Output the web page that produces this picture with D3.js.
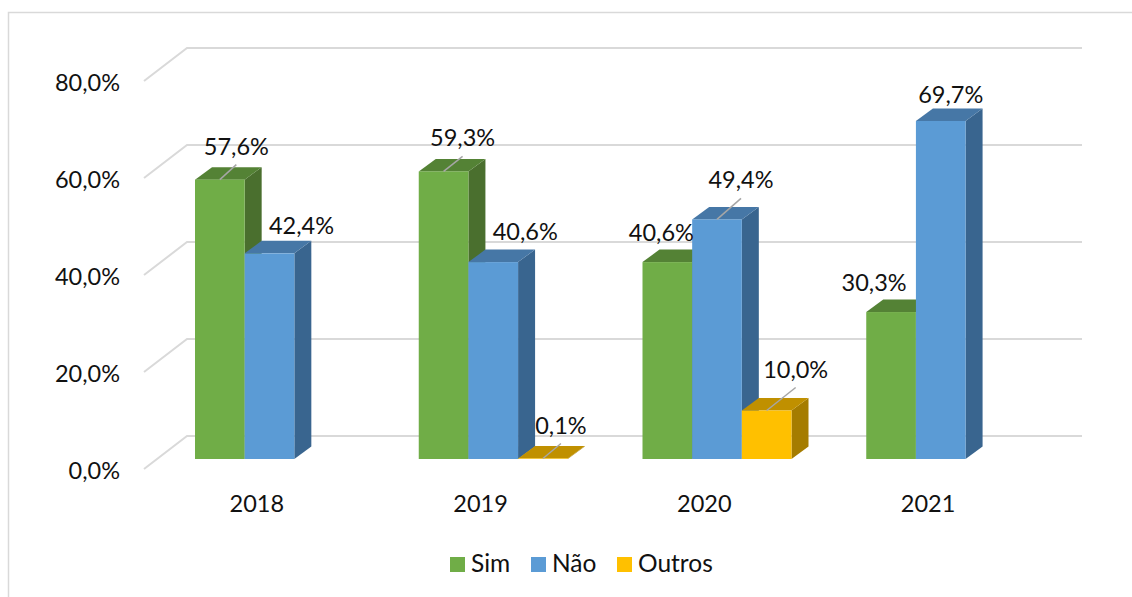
<!DOCTYPE html>
<html>
<head>
<meta charset="utf-8">
<script src="https://cdn.jsdelivr.net/npm/d3@7"></script>
<style>
    html, body { margin: 0; padding: 0; background: #fff; overflow: hidden; }
    text { font-family: Lato, "Open Sans", sans-serif; font-size: 23.5px; fill: #111; }
</style>
</head>
<body>
<div class="chart"></div>
<script>
const years = ["2018", "2019", "2020", "2021"];
const sim = [57.6, 59.3, 40.6, 30.3];
const nao = [42.4, 40.6, 49.4, 69.7];
const outros = [null, 0.1, 10.0, null];
const yTicks = [0, 20, 40, 60, 80];

const seriesNames = ["Sim", "Não", "Outros"];
const seriesValues = [sim, nao, outros];
const colorsFront = ["#70ad47", "#5b9bd5", "#ffc000"];
const colorsTop = ["#548235", "#4677a6", "#c09000"];
const colorsSide = ["#4a6f2e", "#39658f", "#a57c00"];

const width = 1132, height = 597;
const barDepth = { x: 17, y: -12.5 };   // 3D offset of a bar
const wallBack = { x: 43, y: -23 };     // back wall relative to bar plane
const wallFront = { x: 0, y: 10 };      // front edge of the floor

// Hand placed labels, like the manual layout in the original [dx, dy from bar top centre]
const labelOffsets = {
    "0-0": [16.5, -25], "0-1": [32, -19],
    "1-0": [19, -25], "1-1": [32, -22], "1-2": [18, -25],
    "2-0": [-6, -21], "2-1": [24, -31], "2-2": [29, -33],
    "3-0": [-17, -21], "3-1": [10, -18]
};
const withLeader = ["0-0", "1-0", "1-2", "2-1", "2-2"];

const svg = d3.select(".chart")
    .append("svg")
    .attr("width", width)
    .attr("height", height);

// Chart border
svg.append("path")
    .attr("d", "M8.5," + height + "V12.5H" + width)
    .attr("fill", "none")
    .attr("stroke", "#d9d9d9")
    .attr("stroke-width", 1.5);

const scaleX = d3.scaleBand().domain(years).range([145, 1040]);
const scaleY = d3.scaleLinear().domain([0, 80]).range([459, 71]);
const scaleSeries = d3.scaleBand().domain(seriesNames).range([50, 199]);

// Grid on the walls
const grid = svg.append("g");
yTicks.forEach(t => {
    const y = scaleY(t);
    grid.append("path")
        .attr("d", d3.line()([
            [144, y + wallFront.y],
            [144 + wallBack.x, y + wallBack.y],
            [1082, y + wallBack.y]
        ]))
        .attr("fill", "none")
        .attr("stroke", "#d9d9d9")
        .attr("stroke-width", 2);
});

// Y axis
svg.append("g")
    .attr("transform", "translate(126," + (wallFront.y + 1.5) + ")")
    .call(d3.axisLeft(scaleY).tickValues(yTicks).tickSize(0).tickPadding(6)
        .tickFormat(d => d3.format(".1f")(d).replace(".", ",") + "%"))
    .call(g => g.select(".domain").remove());

// X axis
svg.append("g")
    .attr("transform", "translate(0,495)")
    .call(d3.axisBottom(scaleX).tickSize(0).tickPadding(0))
    .call(g => g.select(".domain").remove());

svg.selectAll(".tick text").style("font-size", "23.5px").style("font-family", null);

// Bars
const poly = pts => d3.line()(pts) + "Z";
const bars = svg.append("g");
years.forEach((year, i) => {
    seriesNames.forEach((name, s) => {
        const v = seriesValues[s][i];
        if (v === null) return;
        const x0 = scaleX(year) + scaleSeries(name);
        const x1 = x0 + scaleSeries.bandwidth();
        const y0 = scaleY(0), y1 = scaleY(v);
        const dx = barDepth.x, dy = barDepth.y;

        bars.append("path")
            .attr("d", poly([[x1, y1], [x1 + dx, y1 + dy], [x1 + dx, y0 + dy], [x1, y0]]))
            .attr("fill", colorsSide[s]);
        bars.append("path")
            .attr("d", poly([[x0, y1], [x0 + dx, y1 + dy], [x1 + dx, y1 + dy], [x1, y1]]))
            .attr("fill", colorsTop[s]);
        bars.append("rect")
            .attr("x", x0)
            .attr("y", y1)
            .attr("width", x1 - x0)
            .attr("height", y0 - y1)
            .attr("fill", colorsFront[s]);
    });
});

// Data labels and leader lines
const labels = svg.append("g");
years.forEach((year, i) => {
    seriesNames.forEach((name, s) => {
        const v = seriesValues[s][i];
        if (v === null) return;
        const key = i + "-" + s;
        const cx = scaleX(year) + scaleSeries(name) + scaleSeries.bandwidth() / 2;
        const top = scaleY(v);
        const [ox, oy] = labelOffsets[key];

        if (withLeader.includes(key)) {
            labels.append("line")
                .attr("x1", cx)
                .attr("y1", top)
                .attr("x2", cx + ox)
                .attr("y2", top + oy + 10)
                .attr("stroke", "#a6a6a6")
                .attr("stroke-width", 1.5);
        }
        labels.append("text")
            .attr("x", cx + ox)
            .attr("y", top + oy)
            .attr("text-anchor", "middle")
            .text(d3.format(".1f")(v).replace(".", ",") + "%");
    });
});

// Legend
const legendX = d3.scaleOrdinal().domain(seriesNames).range([450, 531, 617]);
const legend = svg.append("g");
seriesNames.forEach((name, s) => {
    legend.append("rect")
        .attr("x", legendX(name))
        .attr("y", 557)
        .attr("width", 15)
        .attr("height", 15)
        .attr("fill", colorsFront[s]);
    legend.append("text")
        .attr("x", legendX(name) + 21)
        .attr("y", 572)
        .style("font-size", "24.5px")
        .text(name);
});
</script>
</body>
</html>
